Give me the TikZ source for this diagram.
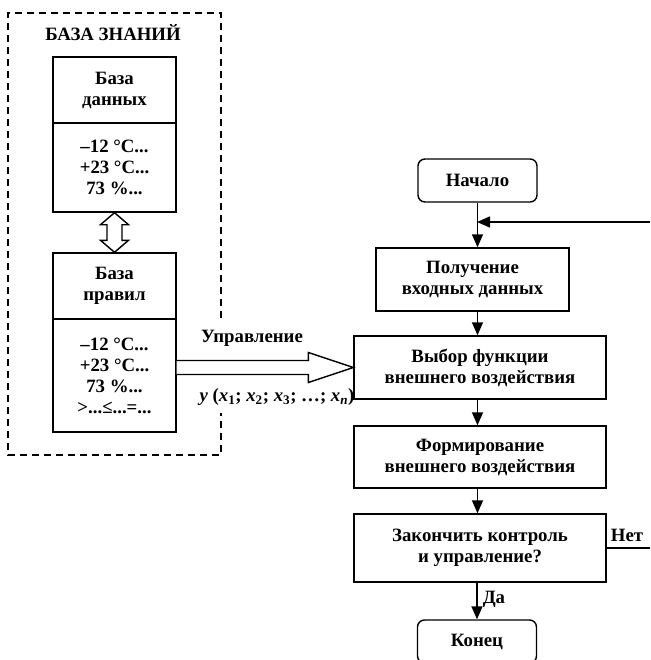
\documentclass[tikz,border=0pt]{standalone}
\usepackage{fontspec}
\setmainfont{Liberation Serif}
\usetikzlibrary{positioning}
\usetikzlibrary{calc}
\usetikzlibrary{arrows.meta}

\tikzset{
  txt/.style={font=\bfseries\fontsize{18.8}{21}\selectfont, align=center, inner sep=0pt},
  blockbox/.style={txt, draw, line width=1.4pt, rectangle, minimum width=#1},
  blockbox/.default=252pt,
  termbox/.style={txt, draw, line width=1.4pt, rounded corners=7pt, minimum width=119pt, minimum height=43pt},
  flow/.style={line width=1.5pt, -{Triangle[length=13pt,width=11pt]}},
  hollow/.style={line width=1.4pt, fill=white, line join=miter}
}

\begin{document}
\begin{tikzpicture}[x=1pt, y=-1pt]
    \useasboundingbox (0,0) rectangle (650,660);

    % knowledge base frame (open where the control arrow leaves)
    \draw[line width=1.3pt, dash pattern=on 7pt off 5pt]
        (221,318) -- (221,13) -- (8,13) -- (8,455) -- (221,455) -- (221,413);
    \node[txt] (kbtitle) at (113,33) {БАЗА ЗНАНИЙ};

    \node[blockbox=123pt, minimum height=66pt] (dbhead) at (114.5,90) {База\\данных};
    \node[blockbox=123pt, minimum height=89pt] (dbbody) at (114.5,167.5) {–12 °C...\\+23 °C...\\73 \%...};
    \node[blockbox=123pt, minimum height=66pt] (rulehead) at (114.5,286) {База\\правил};
    \node[blockbox=123pt, minimum height=113pt] (rulebody) at (114.5,375.5) {–12 °C...\\+23 °C...\\73 \%...\\>...≤...=...};

    % two-way link between the bases
    \draw[hollow] (dbbody.south) -- ($(dbbody.south)+(14,12)$) -- ($(dbbody.south)+(7.5,12)$)
        -- ($(rulehead.north)+(7.5,-12)$) -- ($(rulehead.north)+(14,-12)$) -- (rulehead.north)
        -- ($(rulehead.north)+(-14,-12)$) -- ($(rulehead.north)+(-7.5,-12)$)
        -- ($(dbbody.south)+(-7.5,12)$) -- ($(dbbody.south)+(-14,12)$) -- cycle;

    % flow chart
    \node[termbox] (start) at (477.5,180.5) {Начало};
    \node[blockbox=193pt, minimum height=63pt] (getdata) at (472.5,279.5) {Получение\\входных данных};
    \node[blockbox, minimum height=63pt] (choose) at (480,367.5) {Выбор функции\\внешнего воздействия};
    \node[blockbox, minimum height=62pt] (form) at (480,457) {Формирование\\внешнего воздействия};
    \node[blockbox, minimum height=68pt] (finish) at (480,548) {Закончить контроль\\и управление?};
    \node[termbox] (stop) at (477,641.5) {Конец};

    \coordinate (loopin) at (650,222);
    \coordinate (loopout) at (650,548);
    \coordinate (trunk) at (477,222);

    \draw[flow] (start.south) -- (start.south |- getdata.north);
    \draw[flow] (loopin) -- (trunk);
    \draw[flow] (start.south |- getdata.south) -- (start.south |- choose.north);
    \draw[flow] (start.south |- choose.south) -- (start.south |- form.north);
    \draw[flow] (start.south |- form.south) -- (start.south |- finish.north);
    \draw[flow] (stop.north |- finish.south) -- (stop.north) node[txt, pos=0.45, right=5pt] (yes) {Да};
    \draw[line width=1.5pt] (finish.east) -- (loopout);
    \node[txt] (no) at (627,535) {Нет};

    % control action arrow
    \draw[hollow] ($(rulebody.east |- choose.west)+(0,-7)$) -- ($(choose.west)+(-45,-7)$)
        -- ($(choose.west)+(-45,-15)$) -- (choose.west) -- ($(choose.west)+(-45,15)$)
        -- ($(choose.west)+(-45,7)$) -- ($(rulebody.east |- choose.west)+(0,7)$);
    \node[txt] (ctrl) at (252,338) {Управление};
    \node[txt] (func) at (277,397) {\textit{y} (\textit{x}\textsubscript{1}; \textit{x}\textsubscript{2}; \textit{x}\textsubscript{3}; …; \textit{x}\textsubscript{\textit{n}})};
\end{tikzpicture}
\end{document}
